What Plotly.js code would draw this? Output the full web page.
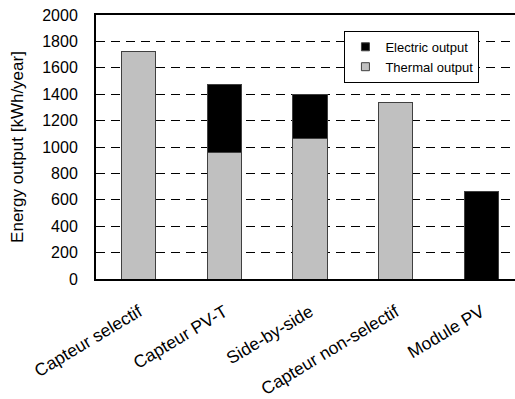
<!DOCTYPE html>
<html><head><meta charset="utf-8">
<script src="https://cdn.plot.ly/plotly-3.0.1.min.js"></script>
<style>html,body{margin:0;padding:0;background:#fff;}#chart{width:515px;height:399px;}</style>
</head><body><div id="chart"></div>
<script>
const categories = ["Capteur selectif", "Capteur PV-T", "Side-by-side", "Capteur non-selectif", "Module PV"];
const thermalOutput = [1720, 958, 1063, 1336, 0];
const electricOutput = [0, 518, 338, 0, 661];
const yTicks = [0, 200, 400, 600, 800, 1000, 1200, 1400, 1600, 1800, 2000];

const font = {family: "Liberation Sans, Arial, sans-serif", color: "#000"};
const xIdx = categories.map((c, i) => i);
const traces = [
  {type: "bar", name: "Thermal output", x: xIdx, y: thermalOutput, showlegend: false,
   marker: {color: "#c0c0c0", line: {color: "#404040", width: 1}}, width: 0.4},
  {type: "bar", name: "Electric output", x: xIdx, y: electricOutput, showlegend: false,
   marker: {color: "#000000", line: {color: "#404040", width: 1}}, width: 0.4},
  // legend entries (no data)
  {type: "scatter", mode: "markers", name: "Electric output", x: [null], y: [null],
   marker: {symbol: "square", size: 8, color: "#000", line: {color: "#404040", width: 1}}},
  {type: "scatter", mode: "markers", name: "Thermal output", x: [null], y: [null],
   marker: {symbol: "square", size: 8, color: "#c0c0c0", line: {color: "#404040", width: 1}}}
];
const layout = {
  width: 515, height: 399,
  margin: {l: 96, r: 0, t: 15, b: 120},
  barmode: "stack",
  paper_bgcolor: "#fff", plot_bgcolor: "#fff",
  showlegend: true,
  legend: {x: 0.754, y: 0.94, xanchor: "center", yanchor: "top",
           bordercolor: "#000", borderwidth: 1, bgcolor: "#fff", traceorder: "normal",
           font: {...font, size: 13}, itemwidth: 30, tracegroupgap: 0},
  xaxis: {range: [-0.5, 4.395], tickvals: xIdx, ticktext: categories,
          tickangle: -31, tickfont: {...font, size: 17.5}, showgrid: false,
          showline: true, linecolor: "#000", linewidth: 2, mirror: true,
          ticks: "", ticklabelstandoff: 14, zeroline: false, fixedrange: true},
  yaxis: {range: [0, 2000], tickvals: yTicks, tickfont: {...font, size: 16},
          showgrid: true, gridcolor: "#000", gridwidth: 1, griddash: "9px,6px",
          showline: true, linecolor: "#000", linewidth: 2, ticks: "",
          ticklabelstandoff: 13, zeroline: false,
          title: {text: "Energy output [kWh/year]", font: {...font, size: 17}, standoff: 14}}
};
Plotly.newPlot("chart", traces, layout, {displayModeBar: false, staticPlot: true});
</script></body></html>
